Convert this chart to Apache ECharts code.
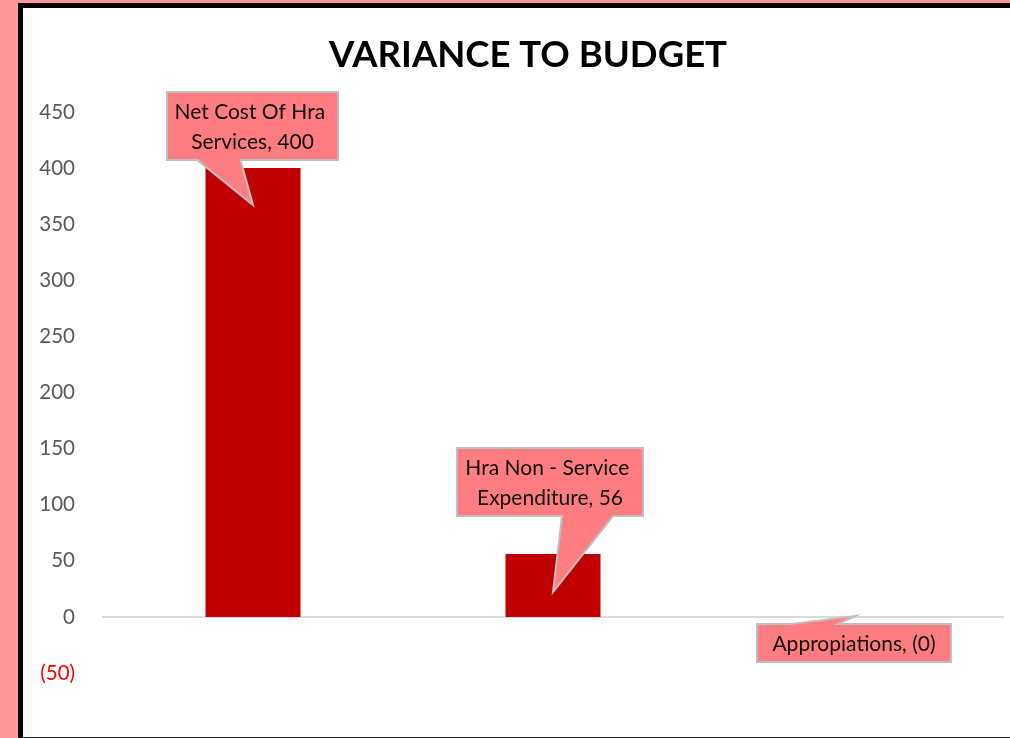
<!DOCTYPE html>
<html>
<head>
<meta charset="utf-8">
<script src="https://cdn.jsdelivr.net/npm/echarts@6/dist/echarts.min.js"></script>
<style>
  html, body { margin: 0; padding: 0; width: 1010px; height: 738px; overflow: hidden; background: #FF9999; }
  #frame { position: absolute; left: 18px; top: 3px; width: 1100px; height: 729px;
           border-left: 5px solid #000; border-top: 5px solid #000; border-bottom: 3px solid #222; background: #fff; }
  #chart { position: absolute; left: 0; top: 0; width: 1010px; height: 738px; }
</style>
</head>
<body>
<div id="frame"></div>
<div id="chart"></div>
<script>
// ---- data ----
const titleText = 'VARIANCE TO BUDGET';
const categories = ['Net Cost Of Hra Services', 'Hra Non - Service Expenditure', 'Appropiations'];
const values = [400, 56, -0.2];
const yMin = -50;
const yMax = 450;
const yStep = 50;

// ---- styling of callouts (pixel offsets relative to bar end) ----
const callouts = [
  { dx: -0.5, dy: -42, w: 171, h: 68, edge: 'bottom', b1: -55, b2: -12, tx: 0, ty: 37 },
  { dx: -3,   dy: -72, w: 186, h: 68, edge: 'bottom', b1: 12,  b2: 63,  tx: 0, ty: 38 },
  { dx: 1,    dy: 26,  w: 194, h: 38, edge: 'top',    b1: -64, b2: -16, tx: 2, ty: -1 }
];
const FONT = 'Lato, "Open Sans", sans-serif';

function fmt(v) {
  const r = Math.round(v);
  if (v < 0) return '(' + Math.abs(r) + ')';
  return String(r);
}

const chart = echarts.init(document.getElementById('chart'), null, { renderer: 'canvas' });

chart.setOption({
  backgroundColor: 'transparent',
  animation: false,
  title: {
    text: titleText,
    left: 523,
    textAlign: 'center',
    top: 32,
    textStyle: { fontFamily: FONT, fontWeight: 'bold', fontSize: 36.5, color: '#000' }
  },
  grid: { left: 103, right: 7, top: 112, bottom: 65, containLabel: false },
  xAxis: {
    type: 'category',
    data: categories,
    axisLine: { show: true, onZero: true, lineStyle: { color: '#D9D9D9', width: 2 } },
    axisTick: { show: false },
    axisLabel: { show: false },
    splitLine: { show: false }
  },
  yAxis: {
    type: 'value',
    min: yMin, max: yMax, interval: yStep,
    axisLine: { show: false },
    axisTick: { show: false },
    splitLine: { show: false },
    axisLabel: {
      margin: 28,
      fontFamily: FONT,
      fontSize: 20.5,
      color: '#595959',
      formatter: function (v) { return v < 0 ? '{neg|' + fmt(v) + '}' : fmt(v); },
      rich: { neg: { color: '#FF0000', fontFamily: FONT, fontSize: 20.5 } }
    }
  },
  series: [
    {
      type: 'bar',
      data: values,
      barWidth: 95,
      itemStyle: { color: '#C00000' }
    },
    {
      type: 'custom',
      data: values.map((v, i) => [i, v]),
      z: 10,
      renderItem: function (params, api) {
        const i = api.value(0);
        const v = api.value(1);
        const p = api.coord([i, v]);
        const c = callouts[i];
        const cx = p[0] + c.dx, cy = p[1] + c.dy;
        const L = cx - c.w / 2, R = cx + c.w / 2, T = cy - c.h / 2, B = cy + c.h / 2;
        const tip = [p[0] + c.tx, p[1] + c.ty];
        let pts;
        if (c.edge === 'bottom') {
          pts = [[L, T], [R, T], [R, B], [cx + c.b2, B], tip, [cx + c.b1, B], [L, B]];
        } else {
          pts = [[L, T], [cx + c.b1, T], tip, [cx + c.b2, T], [R, T], [R, B], [L, B]];
        }
        return {
          type: 'group',
          children: [
            {
              type: 'polygon',
              shape: { points: pts },
              style: { fill: '#FF7C80', stroke: '#BFBFBF', lineWidth: 2 }
            },
            {
              type: 'text',
              x: cx, y: cy + 1.5,
              style: {
                text: categories[i] + ', ' + fmt(v),
                align: 'center',
                verticalAlign: 'middle',
                fontFamily: FONT,
                fontSize: 21,
                lineHeight: 30,
                width: 178,
                overflow: 'break',
                fill: '#0D0D0D'
              }
            }
          ]
        };
      }
    }
  ]
});
</script>
</body>
</html>
